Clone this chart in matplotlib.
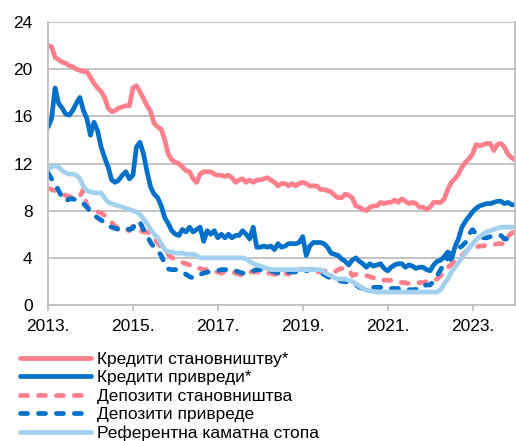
import matplotlib
matplotlib.use("Agg")
import matplotlib.pyplot as plt
import numpy as np

plt.rcParams['font.family'] = ['Liberation Sans', 'DejaVu Sans']

# Monthly data, Jan 2013 .. Jan 2024 (133 months)
tick_labels = ["2013.", "2015.", "2017.", "2019.", "2021.", "2023."]
tick_months = [0, 24, 48, 72, 96, 120]

loans_households = [
    22.0, 21.9, 21.0, 20.8, 20.6, 20.5, 20.3, 20.2, 20.0, 19.9, 19.8, 19.8,
    19.3, 18.8, 18.4, 18.1, 17.6, 16.7, 16.4, 16.5, 16.7, 16.8, 16.9, 16.9,
    18.4, 18.6, 18.1, 17.5, 16.9, 16.4, 15.4, 15.1, 14.9, 14.0, 12.8, 12.3,
    12.1, 12.0, 11.7, 11.4, 11.3, 10.7, 10.4, 11.1, 11.3, 11.3, 11.3, 11.1,
    11.0, 11.0, 10.9, 11.0, 10.8, 10.4, 10.6, 10.7, 10.4, 10.6, 10.4, 10.6,
    10.6, 10.7, 10.8, 10.6, 10.4, 10.1, 10.3, 10.3, 10.1, 10.3, 10.1, 10.3,
    10.4, 10.3, 10.1, 10.1, 10.1, 9.8, 9.8, 9.7, 9.6, 9.3, 9.1, 9.1,
    9.4, 9.3, 9.1, 8.4, 8.3, 8.1, 8.0, 8.3, 8.4, 8.4, 8.7, 8.6,
    8.7, 8.7, 8.9, 8.7, 9.0, 8.8, 8.6, 8.7, 8.6, 8.3, 8.3, 8.1,
    8.3, 8.7, 8.7, 8.7, 9.0, 9.8, 10.4, 10.7, 11.1, 11.7, 12.1, 12.4,
    12.8, 13.6, 13.5, 13.6, 13.7, 13.7, 13.1, 13.6, 13.7, 13.4, 12.8, 12.5,
    12.3,
]

loans_corporates = [
    15.1, 15.8, 18.4, 17.1, 16.7, 16.2, 16.1, 16.5, 17.1, 17.6, 16.5, 15.8,
    14.4, 15.5, 14.8, 13.4, 12.5, 11.7, 10.6, 10.4, 10.6, 11.0, 11.3, 10.7,
    11.0, 13.4, 13.8, 12.8, 11.3, 10.0, 9.4, 9.1, 8.4, 7.4, 6.9, 6.3,
    6.0, 5.9, 6.4, 6.2, 6.6, 6.2, 6.4, 6.6, 5.4, 6.3, 6.0, 6.3,
    5.7, 6.0, 5.7, 6.0, 5.7, 5.9, 5.9, 6.3, 6.0, 5.6, 6.6, 4.9,
    4.9, 5.0, 4.9, 5.0, 4.7, 5.2, 4.9, 5.0, 5.2, 5.2, 5.2, 5.3,
    5.8, 4.2, 5.0, 5.3, 5.3, 5.3, 5.2, 4.9, 4.4, 4.3, 4.2, 3.9,
    3.7, 3.4, 3.8, 4.0, 3.7, 3.5, 3.2, 3.5, 3.3, 3.4, 3.5, 3.1,
    2.9, 3.2, 3.4, 3.5, 3.5, 3.2, 3.4, 3.3, 3.1, 3.2, 3.2, 3.0,
    2.9, 3.4, 3.7, 3.8, 4.1, 4.5, 3.8, 4.9, 5.6, 6.6, 7.1, 7.5,
    7.9, 8.2, 8.4, 8.5, 8.6, 8.6, 8.7, 8.8, 8.8, 8.6, 8.7, 8.5,
    8.5,
]

deposits_households = [
    9.9, 9.8, 9.7, 9.5, 9.4, 9.3, 9.2, 9.1, 9.1, 9.2, 9.8, 8.4,
    8.1, 8.0, 7.9, 7.8, 7.6, 7.3, 7.0, 6.7, 6.5, 6.4, 6.4, 6.3,
    6.7, 6.4, 6.3, 6.2, 6.2, 6.0, 5.7, 5.3, 4.9, 4.6, 4.3, 4.0,
    3.9, 3.8, 3.6, 3.5, 3.4, 3.2, 3.1, 3.1, 3.0, 3.0, 2.9, 2.8,
    2.8, 2.7, 2.8, 2.8, 2.8, 2.7, 2.6, 2.5, 2.7, 2.8, 2.8, 2.8,
    2.7, 2.7, 2.7, 2.7, 2.6, 2.6, 2.7, 2.7, 2.6, 2.9, 3.2, 3.1,
    3.0, 3.0, 3.0, 2.9, 2.8, 2.8, 2.9, 2.9, 2.8, 2.8, 3.0, 3.1,
    3.1, 3.0, 2.5, 2.6, 2.6, 2.6, 2.5, 2.4, 2.3, 2.1, 2.1, 2.1,
    2.1, 2.1, 2.1, 2.0, 1.9, 1.9, 1.8, 1.8, 1.8, 1.9, 1.9, 2.0,
    2.1, 2.1, 2.2, 2.5, 2.8, 3.2, 3.4, 3.7, 4.0, 4.2, 4.5, 4.7,
    4.8, 4.9, 5.0, 5.0, 5.1, 5.1, 5.1, 5.2, 5.2, 5.2, 5.8, 6.1,
    6.2,
]

deposits_corporates = [
    11.2, 10.7, 10.3, 9.7, 9.1, 8.8, 9.0, 9.0, 8.9, 8.8, 8.6, 8.3,
    7.9, 7.6, 7.4, 7.2, 7.0, 6.7, 6.6, 6.5, 6.4, 6.4, 6.5, 6.4,
    6.5, 7.1, 7.0, 6.4, 5.9, 5.3, 4.9, 4.6, 4.2, 3.5, 3.05, 3.0,
    3.0, 2.9, 2.8, 2.6, 2.4, 2.3, 2.5, 2.6, 2.7, 2.8, 2.8, 2.8,
    2.9, 3.0, 3.0, 3.0, 3.0, 2.9, 2.8, 2.7, 2.7, 2.8, 2.9, 3.0,
    3.0, 3.0, 2.9, 2.9, 2.8, 2.7, 2.7, 2.8, 2.8, 2.8, 2.8, 2.9,
    2.9, 2.9, 3.0, 3.0, 2.9, 2.7, 2.6, 2.4, 2.3, 2.2, 2.1, 2.0,
    2.0, 1.9, 1.8, 1.7, 1.5, 1.4, 1.4, 1.5, 1.5, 1.5, 1.5, 1.4,
    1.4, 1.4, 1.4, 1.4, 1.4, 1.3, 1.3, 1.3, 1.3, 1.6, 1.6, 1.7,
    1.7, 2.0, 2.5, 3.0, 3.5, 4.0, 4.4, 4.6, 4.8, 5.0, 5.3, 6.0,
    6.4, 6.0, 5.8, 5.7, 5.7, 5.8, 5.8, 5.8, 5.9, 5.6, 5.6, 5.8,
    5.8,
]

reference_rate = [
    11.5, 11.7, 11.8, 11.7, 11.4, 11.2, 11.1, 11.1, 11.0, 10.7, 10.1, 9.7,
    9.6, 9.5, 9.5, 9.5, 9.1, 8.7, 8.6, 8.5, 8.4, 8.3, 8.2, 8.1,
    8.0, 7.9, 7.7, 7.3, 6.9, 6.4, 6.0, 5.7, 5.2, 4.7, 4.5, 4.5,
    4.4, 4.4, 4.4, 4.3, 4.3, 4.3, 4.2, 4.0, 4.0, 4.0, 4.0, 4.0,
    4.0, 4.0, 4.0, 4.0, 4.0, 4.0, 4.0, 4.0, 3.9, 3.7, 3.5, 3.4,
    3.3, 3.2, 3.1, 3.0, 3.0, 3.0, 3.0, 3.0, 3.0, 3.0, 3.0, 3.0,
    3.0, 3.0, 3.0, 3.0, 3.0, 3.0, 2.8, 2.6, 2.5, 2.3, 2.2, 2.2,
    2.2, 2.1, 2.0, 1.8, 1.6, 1.4, 1.25, 1.2, 1.15, 1.1, 1.1, 1.1,
    1.1, 1.1, 1.1, 1.1, 1.1, 1.1, 1.1, 1.1, 1.1, 1.1, 1.1, 1.1,
    1.1, 1.1, 1.1, 1.3, 1.8, 2.2, 2.8, 3.2, 3.6, 4.0, 4.4, 4.8,
    5.2, 5.5, 5.8, 6.0, 6.2, 6.3, 6.4, 6.5, 6.6, 6.6, 6.6, 6.6,
    6.6,
]

labels = ["Кредити становништву*", "Кредити привреди*", "Депозити становништва",
          "Депозити привреде", "Референтна каматна стопа"]

PINK = "#FF7F8C"
BLUE = "#0070C8"
LIGHT = "#A3D0EE"
GRID = "#BFBFBF"

fig = plt.figure(figsize=(5.16, 4.41), dpi=100)
ax = fig.add_axes([48 / 516, 136 / 441, 467 / 516, 283 / 441])

x = np.arange(len(loans_households))
lw = 3.4
ax.plot(x, loans_households, color=PINK, lw=lw, solid_capstyle='round', solid_joinstyle='round', label=labels[0])
ax.plot(x, loans_corporates, color=BLUE, lw=lw, solid_capstyle='round', solid_joinstyle='round', label=labels[1])
ax.plot(x, deposits_households, color=PINK, lw=lw, dashes=(1.5, 2.3), dash_capstyle='round', label=labels[2])
ax.plot(x, deposits_corporates, color=BLUE, lw=lw, dashes=(1.5, 2.3), dash_capstyle='round', label=labels[3])
ax.plot(x, reference_rate, color=LIGHT, lw=lw, solid_capstyle='round', solid_joinstyle='round', label=labels[4])

ax.set_xlim(0, 132)
ax.set_ylim(0, 24)
ax.set_yticks(np.arange(0, 25, 4))
ax.set_xticks(tick_months)
ax.set_xticklabels(tick_labels)
ax.grid(axis='y', color=GRID, lw=1.3)
ax.set_axisbelow(True)
ax.spines['top'].set_visible(False)
for s in ['left', 'bottom', 'right']:
    ax.spines[s].set_color(GRID)
    ax.spines[s].set_linewidth(1.3)
ax.tick_params(axis='x', length=4, width=1.3, color=GRID, labelsize=12.5, pad=6)
ax.tick_params(axis='y', length=0, labelsize=12.5, pad=11)

leg = fig.legend(loc='upper left', bbox_to_anchor=(20 / 516, 1 - 352 / 441),
                 frameon=False, fontsize=12.5, handlelength=4.1, handletextpad=0.35,
                 labelspacing=0.18, borderpad=0, borderaxespad=0)

fig.savefig("out.png", dpi=100)
